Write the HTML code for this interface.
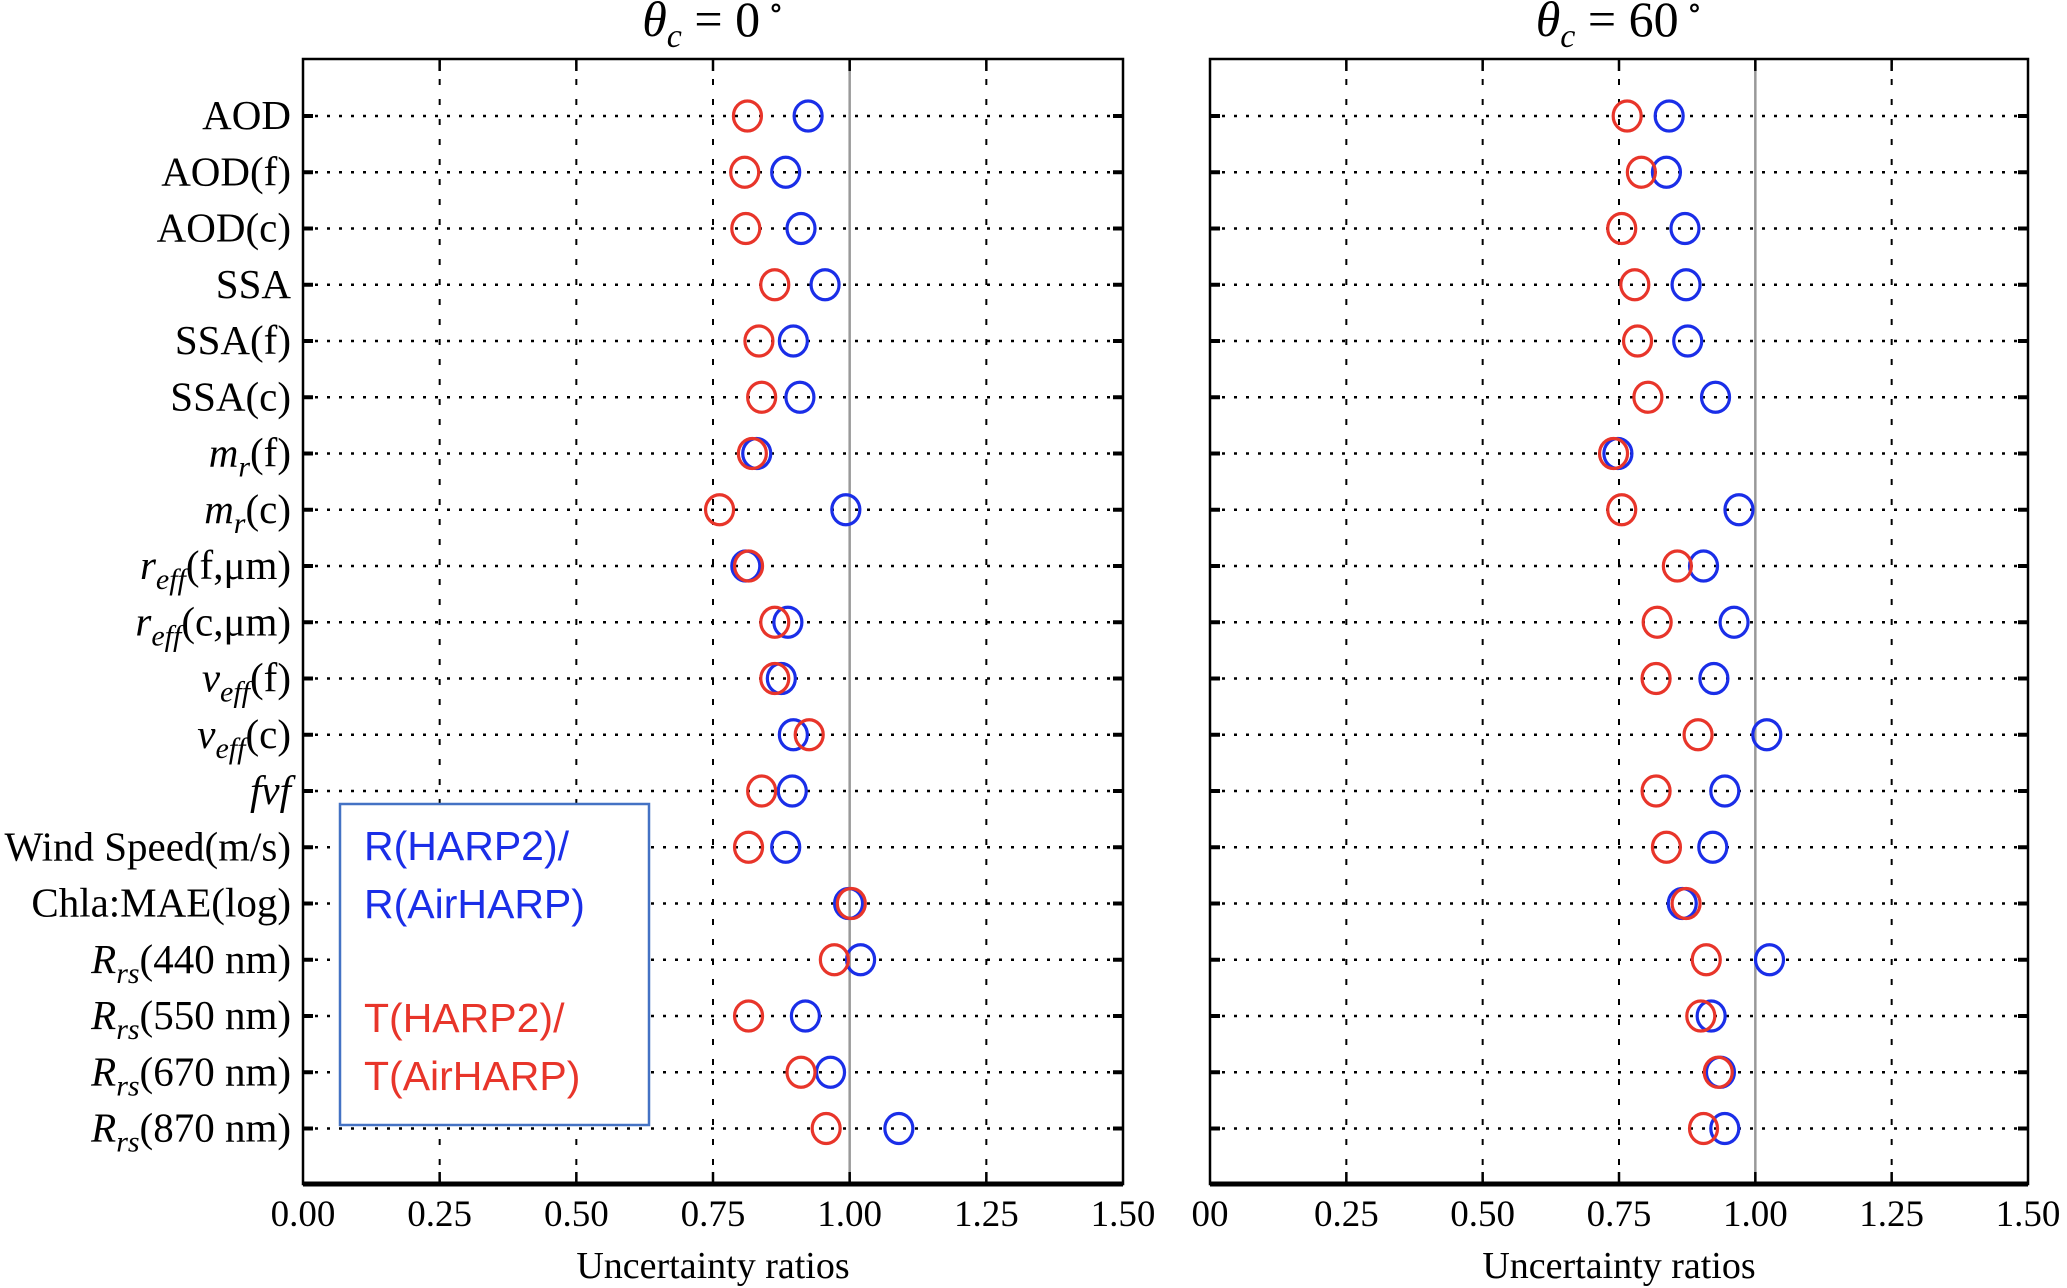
<!DOCTYPE html>
<html><head><meta charset="utf-8"><style>
html,body{margin:0;padding:0;background:#fff;}
svg{display:block;}
text{font-family:"Liberation Serif","DejaVu Serif",serif;}
</style></head><body>
<svg id="chart" width="2067" height="1288" viewBox="0 0 2067 1288" xmlns="http://www.w3.org/2000/svg">
<g id="g"></g>
</svg>
<script>
const categories=["AOD","AOD(f)","AOD(c)","SSA","SSA(f)","SSA(c)","mr(f)","mr(c)","reff(f)","reff(c)","veff(f)","veff(c)","fvf","Wind Speed(m/s)","Chla:MAE(log)","Rrs440","Rrs550","Rrs670","Rrs870"];
const leftRed=[0.813,0.808,0.81,0.863,0.834,0.839,0.822,0.762,0.815,0.863,0.863,0.926,0.839,0.815,1.003,0.972,0.815,0.911,0.957];
const leftBlue=[0.924,0.883,0.911,0.955,0.897,0.909,0.83,0.993,0.81,0.887,0.875,0.897,0.895,0.883,0.998,1.02,0.919,0.965,1.09];
const rightRed=[0.765,0.791,0.755,0.779,0.784,0.803,0.74,0.755,0.857,0.82,0.818,0.895,0.818,0.837,0.873,0.91,0.9,0.932,0.905];
const rightBlue=[0.842,0.837,0.871,0.873,0.876,0.927,0.748,0.97,0.905,0.961,0.924,1.021,0.944,0.922,0.866,1.026,0.919,0.936,0.944];
const xTicks=[0,0.25,0.5,0.75,1.0,1.25,1.5];
const leftTickLabels=["0.00","0.25","0.50","0.75","1.00","1.25","1.50"];
const rightTickLabels=["00","0.25","0.50","0.75","1.00","1.25","1.50"];

const NS="http://www.w3.org/2000/svg";
const g=document.getElementById('g');
function mk(tag,attrs,parent){const e=document.createElementNS(NS,tag);for(const k in attrs)e.setAttribute(k,attrs[k]);(parent||g).appendChild(e);return e;}
const TOP=59,BOT=1184,Y0=116,Y1=1128.5;
function yPos(i){return Y0+i*(Y1-Y0)/(categories.length-1);}

const labelSpec={"mr(f)":["m","r","(f)"],"mr(c)":["m","r","(c)"],"reff(f)":["r","eff","(f,μm)"],"reff(c)":["r","eff","(c,μm)"],"veff(f)":["v","eff","(f)"],"veff(c)":["v","eff","(c)"],"fvf":["fvf","",""],"Rrs440":["R","rs","(440 nm)"],"Rrs550":["R","rs","(550 nm)"],"Rrs670":["R","rs","(670 nm)"],"Rrs870":["R","rs","(870 nm)"]};

function panel(x0,x1,red,blue,tickLabels,title,showY,key){
  const sx=v=>x0+(v-0)/(1.5-0)*(x1-x0);
  const pg=mk('g',{});
  
  
  xTicks.forEach((t,i)=>{
    if(i===0||i===xTicks.length-1)return;
    const l=mk('line',{x1:sx(t),x2:sx(t),y1:TOP,y2:BOT,stroke:t===1?'#999':'#000','stroke-width':t===1?2.5:2,'stroke-dasharray':t===1?'':'6,14'},pg);
    
    
    mk('line',{x1:sx(t),x2:sx(t),y1:TOP,y2:TOP+12,stroke:'#000','stroke-width':2.5},pg);
    mk('line',{x1:sx(t),x2:sx(t),y1:BOT-12,y2:BOT,stroke:'#000','stroke-width':2.5},pg);
  });
  categories.forEach((c,i)=>{
    const l=mk('line',{x1:x0,x2:x1,y1:yPos(i),y2:yPos(i),stroke:'#000','stroke-width':2.5,'stroke-dasharray':'3,9'},pg);
    
    
    mk('line',{x1:x0,x2:x0+10,y1:yPos(i),y2:yPos(i),stroke:'#000','stroke-width':4},pg);
    mk('line',{x1:x1-10,x2:x1,y1:yPos(i),y2:yPos(i),stroke:'#000','stroke-width':4},pg);
  });
  const fr=mk('rect',{x:x0,y:TOP,width:x1-x0,height:BOT-TOP,fill:'none',stroke:'#000','stroke-width':2.5},pg);
  
  
  mk('line',{x1:x0,x2:x1,y1:BOT,y2:BOT,stroke:'#000','stroke-width':5},pg);
  xTicks.forEach((t,i)=>{
    const tx=mk('text',{x:sx(t),y:1226,'text-anchor':'middle','font-size':37},pg);
    tx.textContent=tickLabels[i];
    
    
  });
  const xl=mk('text',{x:(x0+x1)/2,y:1278,'text-anchor':'middle','font-size':38},pg);
  xl.textContent='Uncertainty ratios';
  
  
  const tt=mk('text',{x:(x0+x1)/2,y:36,'text-anchor':'middle','font-size':50},pg);
  tt.innerHTML='<tspan font-style="italic">θ</tspan><tspan font-style="italic" font-size="34" dy="11">c</tspan><tspan dy="-11"> = '+title+'</tspan><tspan font-size="32" dy="-18"> ∘</tspan>';
  
  
  if(showY){
    categories.forEach((c,i)=>{
      const t=mk('text',{x:x0-12,y:yPos(i)+13,'text-anchor':'end','font-size':41},pg);
      const s=labelSpec[c];
      if(s){
        t.innerHTML='<tspan font-style="italic">'+s[0]+'</tspan>'+(s[1]?'<tspan font-style="italic" font-size="30" dy="10">'+s[1]+'</tspan><tspan dy="-10">'+s[2]+'</tspan>':'');
      } else t.textContent=c;
      
      
    });
  }
  categories.forEach((c,i)=>{
    const b=mk('ellipse',{cx:sx(blue[i]),cy:yPos(i),rx:14,ry:15,fill:'none',stroke:'#1a2ee8','stroke-width':3.2},pg);
    
    
  });
  categories.forEach((c,i)=>{
    const r=mk('ellipse',{cx:sx(red[i]),cy:yPos(i),rx:14,ry:15,fill:'none',stroke:'#e8352a','stroke-width':3.2},pg);
    
    
  });
}
panel(303,1123,leftRed,leftBlue,leftTickLabels,'0',true,'left');
panel(1210,2028,rightRed,rightBlue,rightTickLabels,'60',false,'right');

const lg=mk('g',{});


mk('rect',{x:340,y:804,width:309,height:321,fill:'#fff',stroke:'#4472c4','stroke-width':2.5},lg);
const lines=[["R(HARP2)/",860,'#1a2ee8'],["R(AirHARP)",918,'#1a2ee8'],["T(HARP2)/",1032,'#e8352a'],["T(AirHARP)",1090,'#e8352a']];
lines.forEach(l=>{
  const t=mk('text',{x:364,y:l[1],'font-size':41,fill:l[2],style:'font-family:"Liberation Sans","DejaVu Sans",sans-serif'},lg);
  t.textContent=l[0];
  
  
});
</script>
</body></html>
